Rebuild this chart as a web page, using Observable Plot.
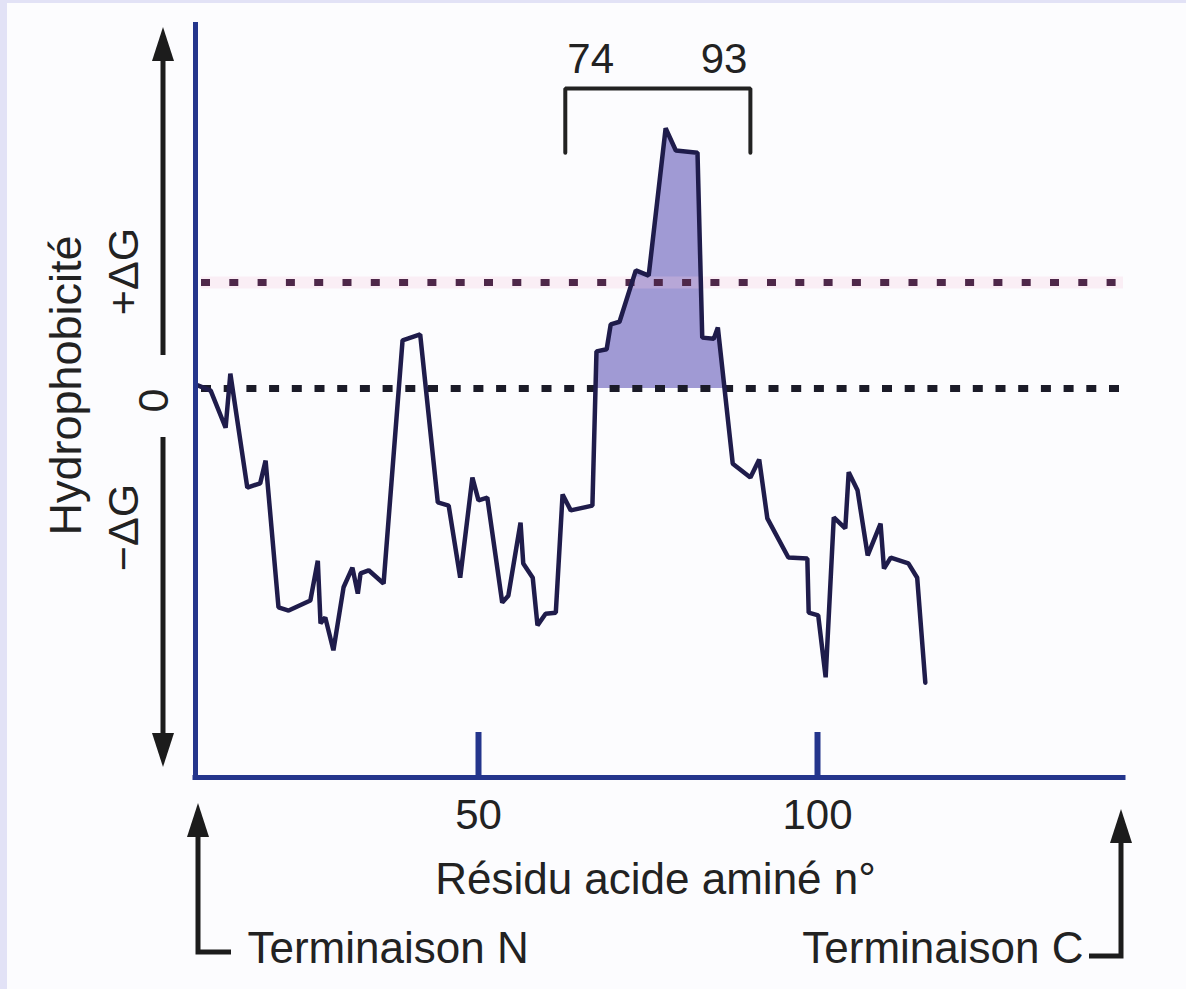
<!DOCTYPE html>
<html>
<head>
<meta charset="utf-8">
<script src="https://cdn.jsdelivr.net/npm/d3@7"></script>
<script src="https://cdn.jsdelivr.net/npm/@observablehq/plot@0.6"></script>
<style>
  html, body { margin: 0; padding: 0; width: 1186px; height: 989px; overflow: hidden; background: #e2e2f6; }
  #paper { position: absolute; left: 7px; top: 3px; width: 1179px; height: 986px; background: #fcfcfe; }
  #chart { position: absolute; left: 0; top: 0; }
</style>
</head>
<body>
<div id="paper"></div>
<div id="chart"></div>
<script>
// ---- data ----
const residue = [8.6, 10.5, 12.7, 13.4, 15.9, 17.8, 18.6, 20.5, 22.0, 25.2, 26.3, 26.7, 27.4, 28.6, 30.1, 31.4, 32.2, 32.6, 33.8, 36.0,
  38.8, 41.4, 44.0, 45.6, 47.3, 49.1, 50.0, 51.3, 53.5, 54.4, 56.2, 56.6, 58.0, 58.7, 59.9, 61.4, 62.4, 63.6, 66.8, 67.4,
  68.9, 69.5, 70.8, 73.2, 75.1, 77.6, 79.1, 82.3, 83.0, 84.7, 85.3, 87.5, 90.1, 91.4, 92.6, 95.7, 98.5, 98.7, 100.1, 101.2,
  102.4, 104.1, 104.6, 105.9, 107.4, 109.3, 109.8, 110.8, 113.4, 114.7, 115.9];
const hydrophobicity = [0.6, -0.4, -7.4, 2.8, -18.7, -17.9, -13.6, -41.3, -41.9, -40.0, -32.5, -44.3, -43.2, -49.4, -37.5, -33.8, -38.7, -34.9, -34.3, -36.8,
  9.1, 10.2, -21.5, -22.1, -35.7, -16.8, -21.1, -20.6, -40.4, -39.1, -25.3, -33.0, -35.7, -44.7, -42.5, -42.3, -20.0, -23.0, -22.1, 7.0,
  7.4, 12.1, 12.6, 22.3, 21.3, 49.1, 44.9, 44.5, 9.6, 9.4, 11.5, -14.2, -16.8, -13.4, -24.5, -31.9, -32.1, -42.3, -42.8, -54.5,
  -24.3, -26.4, -15.8, -19.2, -31.5, -25.5, -34.0, -31.9, -33.0, -35.7, -55.5];
const threshold = 20;                 // membrane-spanning threshold (+ΔG)
const xTicks = [50, 100];
const bracketLabels = ["74", "93"];
const bracketResidues = [62.8, 90.1]; // where the bracket ends sit on the drawn axis
const xLabel = "Résidu acide aminé n°";
const yLabel = "Hydrophobicité";
const yMarks = ["+ΔG", "0", "−ΔG"];
const ends = ["Terminaison N", "Terminaison C"];

// ---- derived tables ----
const profile = residue.map((x, i) => ({x, y: hydrophobicity[i]}));
const seg = profile.filter(d => d.x >= bracketResidues[0] && d.x <= bracketResidues[1]);
const fillPts = [];
seg.forEach((d, i) => {
  if (i > 0) {
    const p = seg[i - 1];
    if ((p.y < 0) !== (d.y < 0)) {
      const t = p.y / (p.y - d.y);
      fillPts.push({x: p.x + t * (d.x - p.x), y: 0});
    }
  }
  fillPts.push({x: d.x, y: Math.max(0, d.y)});
});

const xDomain = [8.26, 145.13];
const yDomain = [-73.4, 69.06];
const bracketTop = 56.6, bracketFoot = 44.5;
const bracketPath = [
  {x: bracketResidues[0], y: bracketFoot}, {x: bracketResidues[0], y: bracketTop},
  {x: bracketResidues[1], y: bracketTop}, {x: bracketResidues[1], y: bracketFoot}
];

const axisBlue = "#24358c";
const ink = "#222222";
const font = "'Liberation Sans', Arial, Helvetica, sans-serif";

const chart = Plot.plot({
  width: 1186, height: 989,
  marginLeft: 195, marginRight: 63, marginTop: 22, marginBottom: 212,
  x: {domain: xDomain},
  y: {domain: yDomain, axis: null},
  style: {background: "transparent", fontFamily: font, fontSize: "44px", color: ink},
  marks: [
    Plot.areaY(fillPts, {x: "x", y1: 0, y2: "y", fill: "#a09ad4"}),
    Plot.ruleY([threshold], {stroke: "#f3c8de", strokeWidth: 12, strokeOpacity: 0.28, insetLeft: 6}),
    Plot.ruleY([threshold], {stroke: "#4e2749", strokeWidth: 7, strokeDasharray: "9 19.3", insetLeft: 6}),
    Plot.ruleY([0], {stroke: "#1b1b28", strokeWidth: 7, strokeDasharray: "10 12.7", insetLeft: 6}),
    Plot.line(profile, {x: "x", y: "y", stroke: "#1f1c4b", strokeWidth: 4.5, strokeLinejoin: "miter"}),
    Plot.ruleX([xDomain[0]], {stroke: axisBlue, strokeWidth: 5}),
    Plot.ruleY([yDomain[0]], {stroke: axisBlue, strokeWidth: 5, strokeLinecap: "square"}),
    Plot.ruleX(xTicks, {stroke: axisBlue, strokeWidth: 6, insetTop: 710}),
    Plot.axisX(xTicks, {tickSize: 0, tickPadding: 22, label: null, fontSize: 42, tickFormat: d => String(d)}),
    Plot.line(bracketPath, {x: "x", y: "y", stroke: ink, strokeWidth: 4, strokeLinejoin: "miter", curve: "linear"}),
    Plot.text([bracketLabels[0]], {x: bracketResidues[0], y: bracketTop, textAnchor: "start", lineAnchor: "bottom", dx: 2, dy: -16, fontSize: 42}),
    Plot.text([bracketLabels[1]], {x: bracketResidues[1], y: bracketTop, textAnchor: "end", lineAnchor: "bottom", dx: -3, dy: -16, fontSize: 42}),
    Plot.text([xLabel], {frameAnchor: "bottom", textAnchor: "middle", lineAnchor: "bottom", dx: -4, dy: 116, fontSize: 44}),
    Plot.text([ends[0]], {frameAnchor: "bottom-left", textAnchor: "start", lineAnchor: "bottom", dx: 52, dy: 185, fontSize: 44}),
    Plot.text([ends[1]], {frameAnchor: "bottom-right", textAnchor: "end", lineAnchor: "bottom", dx: -40, dy: 185, fontSize: 44}),
    Plot.text([yLabel], {frameAnchor: "left", rotate: -90, textAnchor: "middle", lineAnchor: "bottom", dx: -115, dy: -14.5, fontSize: 45, letterSpacing: 2}),
    Plot.text([yMarks[0]], {frameAnchor: "left", rotate: -90, textAnchor: "middle", lineAnchor: "bottom", dx: -58, dy: -128.5, fontSize: 43}),
    Plot.text([yMarks[1]], {frameAnchor: "left", rotate: -90, textAnchor: "middle", lineAnchor: "bottom", dx: -28, dy: 0.5, fontSize: 43}),
    Plot.text([yMarks[2]], {frameAnchor: "left", rotate: -90, textAnchor: "middle", lineAnchor: "bottom", dx: -58, dy: 127.5, fontSize: 43})
  ]
});
document.getElementById("chart").appendChild(chart);

// ---- decorations: arrows (layout only) ----
const svg = d3.select(chart);
const deco = svg.append("g");
const arrowInk = "#1c1c1c";
function head(x, tip, up) {
  const b = up ? tip + 34 : tip - 34;
  deco.append("path").attr("d", `M${x},${tip}L${x - 11},${b}L${x + 11},${b}Z`).attr("fill", arrowInk);
}
function path(d) {
  deco.append("path").attr("d", d).attr("fill", "none").attr("stroke", arrowInk)
    .attr("stroke-width", 5).attr("stroke-linejoin", "miter");
}
// vertical hydrophobicity arrow
head(163, 27, true);
path("M163,58V355");
path("M163,437V737");
head(163, 767, false);
// N-terminus arrow
head(198, 803, true);
path("M198,833V952H231");
// C-terminus arrow
head(1121, 809, true);
path("M1121,839V956H1089");
</script>
</body>
</html>
